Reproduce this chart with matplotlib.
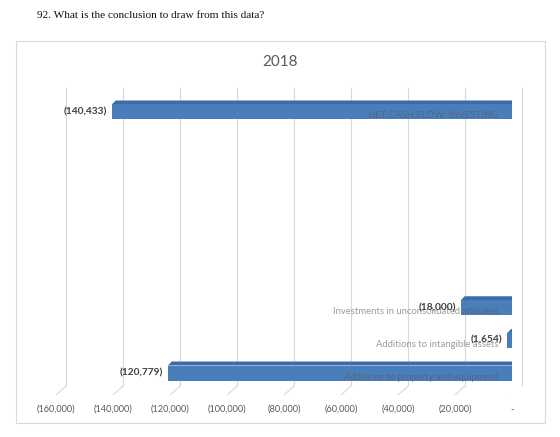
import matplotlib
matplotlib.use("Agg")
import matplotlib.pyplot as plt
from matplotlib.patches import Polygon, Rectangle
from matplotlib.transforms import ScaledTranslation

# data (2018, investing cash flow items); blank rows are empty categories in the sheet
categories = [
    "Additions to property and equipment",
    "Additions to intangible assets",
    "Investments in unconsolidated affiliates",
    "", "", "", "", "",
    "NET CASH FLOW: INVESTING",
]
values = [-120779, -1654, -18000, 0, 0, 0, 0, 0, -140433]
value_labels = ["(120,779)", "(1,654)", "(18,000)", "", "", "", "", "", "(140,433)"]
ticks = [-160000, -140000, -120000, -100000, -80000, -60000, -40000, -20000, 0]
tick_labels = ["(160,000)", "(140,000)", "(120,000)", "(100,000)", "(80,000)",
               "(60,000)", "(40,000)", "(20,000)", "-"]

W, H = 560, 437
DPI = 100
front = "#4A7EBB"
top_c = "#3D6BA6"
side_c = "#2A4C7A"
grid_c = "#D9D9D9"
txt = "#595959"

fig = plt.figure(figsize=(W / DPI, H / DPI), dpi=DPI)
ax = fig.add_axes([56 / W, (H - 395) / H, (512 - 56) / W, (395 - 96) / H])
ax.set_xlim(-160000, 0)
ax.set_ylim(-0.674, 8.49)
for s in ax.spines.values():
    s.set_visible(False)
ax.set_yticks([])
ax.set_xticks(ticks)
ax.set_xticklabels(tick_labels, fontsize=6.6, color=txt, family="Lato")
ax.tick_params(axis="x", length=0, pad=7)
ax.patch.set_alpha(0)

# back-plane gridlines and floor slants
back = ScaledTranslation(10 / DPI, 9 / DPI, fig.dpi_scale_trans)
xt = ax.get_xaxis_transform()
ax.vlines(ticks, 0, 1, color=grid_c, lw=0.8, transform=xt + back, clip_on=False, zorder=0)
fig.canvas.draw()
for t in ticks:
    x0, y0 = ax.transData.transform((t, ax.get_ylim()[0]))
    ax.add_artist(plt.Line2D([x0 + 10, x0], [y0 + 9, y0], color=grid_c, lw=0.8,
                             transform=None, zorder=0))

idx = list(range(len(categories)))
bars = ax.barh(idx, values, height=0.46, color=front, zorder=3, clip_on=False)

# fake 3D depth (top face + right side)
d = 4
for b, v in zip(bars, values):
    if v == 0:
        continue
    bb = b.get_window_extent()
    L, R, B, T = bb.x0, bb.x1, bb.y0, bb.y1
    ax.add_artist(Polygon([(L, T), (R, T), (R + d, T + d), (L + d, T + d)],
                          closed=True, fc=top_c, ec="none", transform=None, zorder=2))
    ax.add_artist(Polygon([(R, B), (R + d, B + d), (R + d, T + d), (R, T)],
                          closed=True, fc=side_c, ec="none", transform=None, zorder=2))

off_cat = ScaledTranslation(-14 / DPI, -4 / DPI, fig.dpi_scale_trans)
off_val = ScaledTranslation(-5 / DPI, 0, fig.dpi_scale_trans)
for i, (c, v, lab) in enumerate(zip(categories, values, value_labels)):
    if c:
        ax.text(0, i, c, ha="right", va="center", fontsize=6.8, family="Lato",
                color="#595959", alpha=0.6, transform=ax.transData + off_cat, zorder=4)
    if lab:
        ax.text(v, i, lab, ha="right", va="center", fontsize=7.3, family="Lato",
                weight="bold", color="#404040", transform=ax.transData + off_val, zorder=5)

fig.patches.append(Rectangle((16 / W, (H - 423) / H), 529 / W, 382 / H,
                             transform=fig.transFigure, fill=False, ec=grid_c, lw=0.8))
fig.text(280 / W, 1 - 62 / H, "2018", ha="center", va="center", fontsize=11,
         color=txt, family="Lato")
fig.text(37 / W, 1 - 16 / H, "92. What is the conclusion to draw from this data?",
         ha="left", va="center", fontsize=8.1, family="Liberation Serif", color="#111111")

fig.savefig("out.png", dpi=DPI)
